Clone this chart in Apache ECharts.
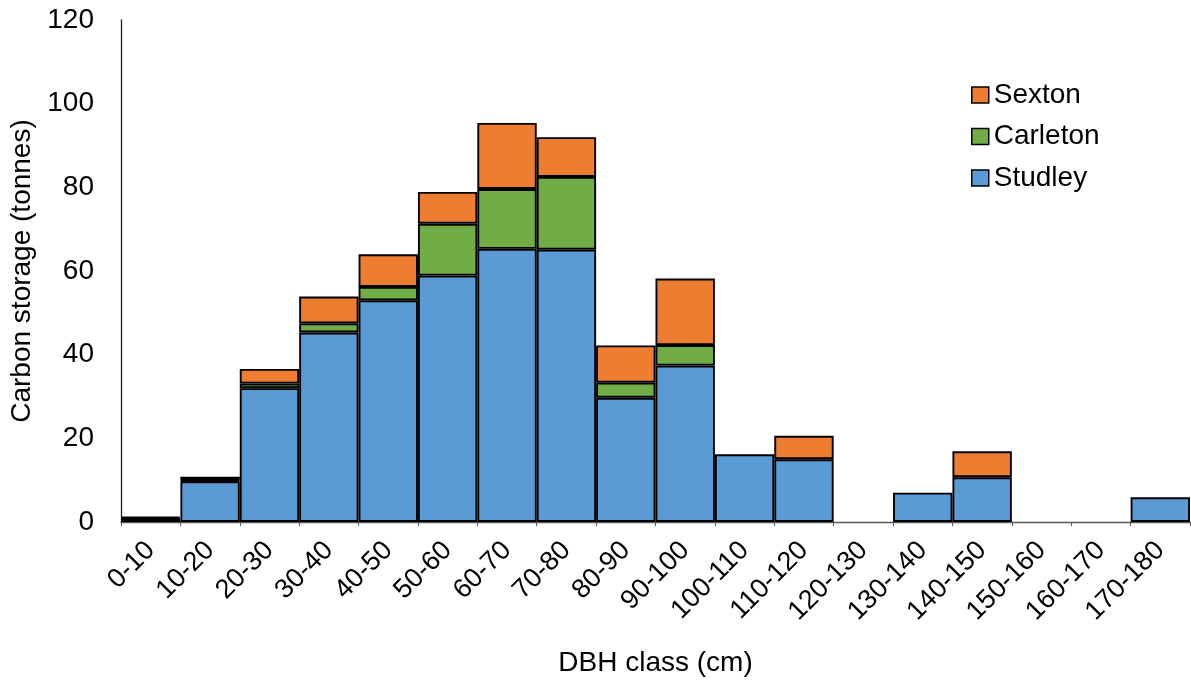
<!DOCTYPE html>
<html>
<head>
<meta charset="utf-8">
<script src="https://cdn.jsdelivr.net/npm/echarts@6/dist/echarts.min.js"></script>
<style>
  html, body { margin: 0; padding: 0; background: #fff; }
  #chart { width: 1191px; height: 683px; }
</style>
</head>
<body>
<div id="chart"></div>
<script>
// DBH classes (cm)
const categories = ['0-10', '10-20', '20-30', '30-40', '40-50', '50-60', '60-70', '70-80', '80-90',
  '90-100', '100-110', '110-120', '120-130', '130-140', '140-150', '150-160', '160-170', '170-180'];

// Carbon storage (tonnes) per site, stacked
const studley  = [0.7, 9.7, 32.0, 45.3, 53.0, 58.9, 65.3, 65.1, 29.7, 37.4, 16.2, 15.0, 0, 7.0, 10.7, 0, 0, 5.9];
const carleton = [0.2, 0.2, 1.1, 2.2, 3.2, 12.4, 14.3, 17.4, 3.6, 4.9, 0, 0, 0, 0, 0, 0, 0, 0];
const sexton   = [0.4, 0.9, 3.5, 6.4, 7.8, 7.6, 15.8, 9.5, 8.9, 15.9, 0, 5.6, 0, 0, 6.2, 0, 0, 0];

const yTicks = [0, 20, 40, 60, 80, 100, 120];

const font = '"Liberation Sans", Arial, sans-serif';
const colors = { Studley: '#5B9BD5', Carleton: '#70AD47', Sexton: '#ED7D31' };

function seriesFor(name, values) {
  return {
    name: name,
    type: 'bar',
    stack: 'total',
    // empty classes draw no box at all
    data: values.map(v => (v === 0 ? '-' : v)),
    barCategoryGap: '0%',
    itemStyle: { color: colors[name], borderColor: '#000', borderWidth: 1.9 },
    emphasis: { disabled: true }
  };
}

const chart = echarts.init(document.getElementById('chart'), null, { renderer: 'canvas' });
chart.setOption({
  animation: false,
  backgroundColor: '#fff',
  grid: { left: 121, right: 1, top: 20, bottom: 161, containLabel: false, outerBoundsMode: 'none' },
  legend: {
    orient: 'vertical',
    left: 966,
    top: 76,
    data: ['Sexton', 'Carleton', 'Studley'],
    itemWidth: 17,
    itemHeight: 16,
    itemGap: 13.5,
    icon: 'rect',
    itemStyle: { borderColor: '#000', borderWidth: 1.5 },
    textStyle: { fontFamily: font, fontSize: 28, color: '#000', lineHeight: 28 }
  },
  xAxis: {
    type: 'category',
    data: categories,
    name: 'DBH class (cm)',
    nameLocation: 'middle',
    nameGap: 127,
    nameTextStyle: { fontFamily: font, fontSize: 28, color: '#000' },
    axisLine: { lineStyle: { color: '#595959', width: 1.3 } },
    axisTick: { show: true, length: 4, lineStyle: { color: '#595959' } },
    axisLabel: { rotate: 45, fontFamily: font, fontSize: 27, color: '#000', margin: 24, interval: 0 }
  },
  yAxis: {
    type: 'value',
    min: yTicks[0],
    max: yTicks[yTicks.length - 1],
    interval: 20,
    name: 'Carbon storage (tonnes)',
    nameLocation: 'middle',
    nameGap: 81,
    nameTextStyle: { fontFamily: font, fontSize: 28, color: '#000' },
    splitLine: { show: false },
    axisLine: { show: true, lineStyle: { color: '#222', width: 1.3 } },
    axisTick: { show: false },
    axisLabel: { fontFamily: font, fontSize: 28, color: '#000', margin: 27 }
  },
  series: [
    seriesFor('Studley', studley),
    seriesFor('Carleton', carleton),
    seriesFor('Sexton', sexton)
  ]
});
</script>
</body>
</html>
